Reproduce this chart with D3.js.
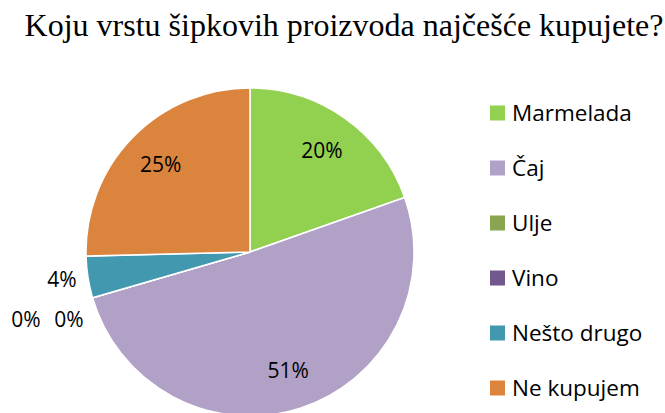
<!DOCTYPE html>
<html>
<head>
<meta charset="utf-8">
<script src="https://cdn.jsdelivr.net/npm/d3@7"></script>
<style>
  body { margin: 0; background: #fff; }
</style>
</head>
<body>
<div id="chart"></div>
<script>
// data (share of answers, in %)
const categories = ["Marmelada", "Čaj", "Ulje", "Vino", "Nešto drugo", "Ne kupujem"];
const values = [19.6, 50.9, 0, 0, 4.1, 25.4];
const colors = ["#92d050", "#b2a1c7", "#8aa54f", "#71588f", "#4298af", "#db843d"];

const width = 665, height = 413;
const cx = 250, cy = 252, radius = 164;

const svg = d3.select("#chart").append("svg")
  .attr("width", width)
  .attr("height", height);

// title
svg.append("text")
  .attr("x", 344)
  .attr("y", 36)
  .attr("text-anchor", "middle")
  .style("font-family", "'Liberation Serif', 'Times New Roman', serif")
  .style("font-size", "32px")
  .text("Koju vrstu šipkovih proizvoda najčešće kupujete?");

const data = categories.map((c, i) => ({ name: c, value: values[i], color: colors[i] }));
const total = d3.sum(values);

const pie = d3.pie().sort(null).value(d => d.value);
const arc = d3.arc().innerRadius(0).outerRadius(radius);
const arcs = pie(data);

const g = svg.append("g").attr("transform", "translate(" + cx + "," + cy + ")");

g.selectAll("path")
  .data(arcs)
  .enter()
  .append("path")
  .attr("d", arc)
  .attr("fill", d => d.data.color)
  .attr("stroke", "#fff")
  .attr("stroke-width", 1.5);

// labels: big slices inside, tiny slices outside on the left
const inner = d3.arc().innerRadius(radius * 0.76).outerRadius(radius * 0.76);
const labelPos = d => {
  const name = d.data.name;
  if (name === "Nešto drugo") return [-188, 28];
  if (name === "Ulje") return [-224, 68];
  if (name === "Vino") return [-181, 68];
  return inner.centroid(d);
};

g.selectAll("text.lbl")
  .data(arcs)
  .enter()
  .append("text")
  .attr("class", "lbl")
  .attr("transform", d => "translate(" + labelPos(d) + ")")
  .attr("text-anchor", "middle")
  .attr("dy", "0.35em")
  .style("font-family", "'Open Sans', 'Noto Sans', sans-serif")
  .style("font-size", "21px")
  .style("fill", "#000")
  .text(d => Math.round(d.data.value / total * 100) + "%");

// legend
const legend = svg.append("g").attr("transform", "translate(490,113)");
const rows = legend.selectAll("g")
  .data(data)
  .enter()
  .append("g")
  .attr("transform", (d, i) => "translate(0," + i * 55 + ")");

rows.append("rect")
  .attr("x", 0)
  .attr("y", -7.5)
  .attr("width", 15)
  .attr("height", 15)
  .attr("fill", d => d.color);

rows.append("text")
  .attr("x", 22)
  .attr("dy", "0.35em")
  .style("font-family", "'Open Sans', 'Noto Sans', sans-serif")
  .style("font-size", "22.5px")
  .style("fill", "#000")
  .text(d => d.name);
</script>
</body>
</html>
